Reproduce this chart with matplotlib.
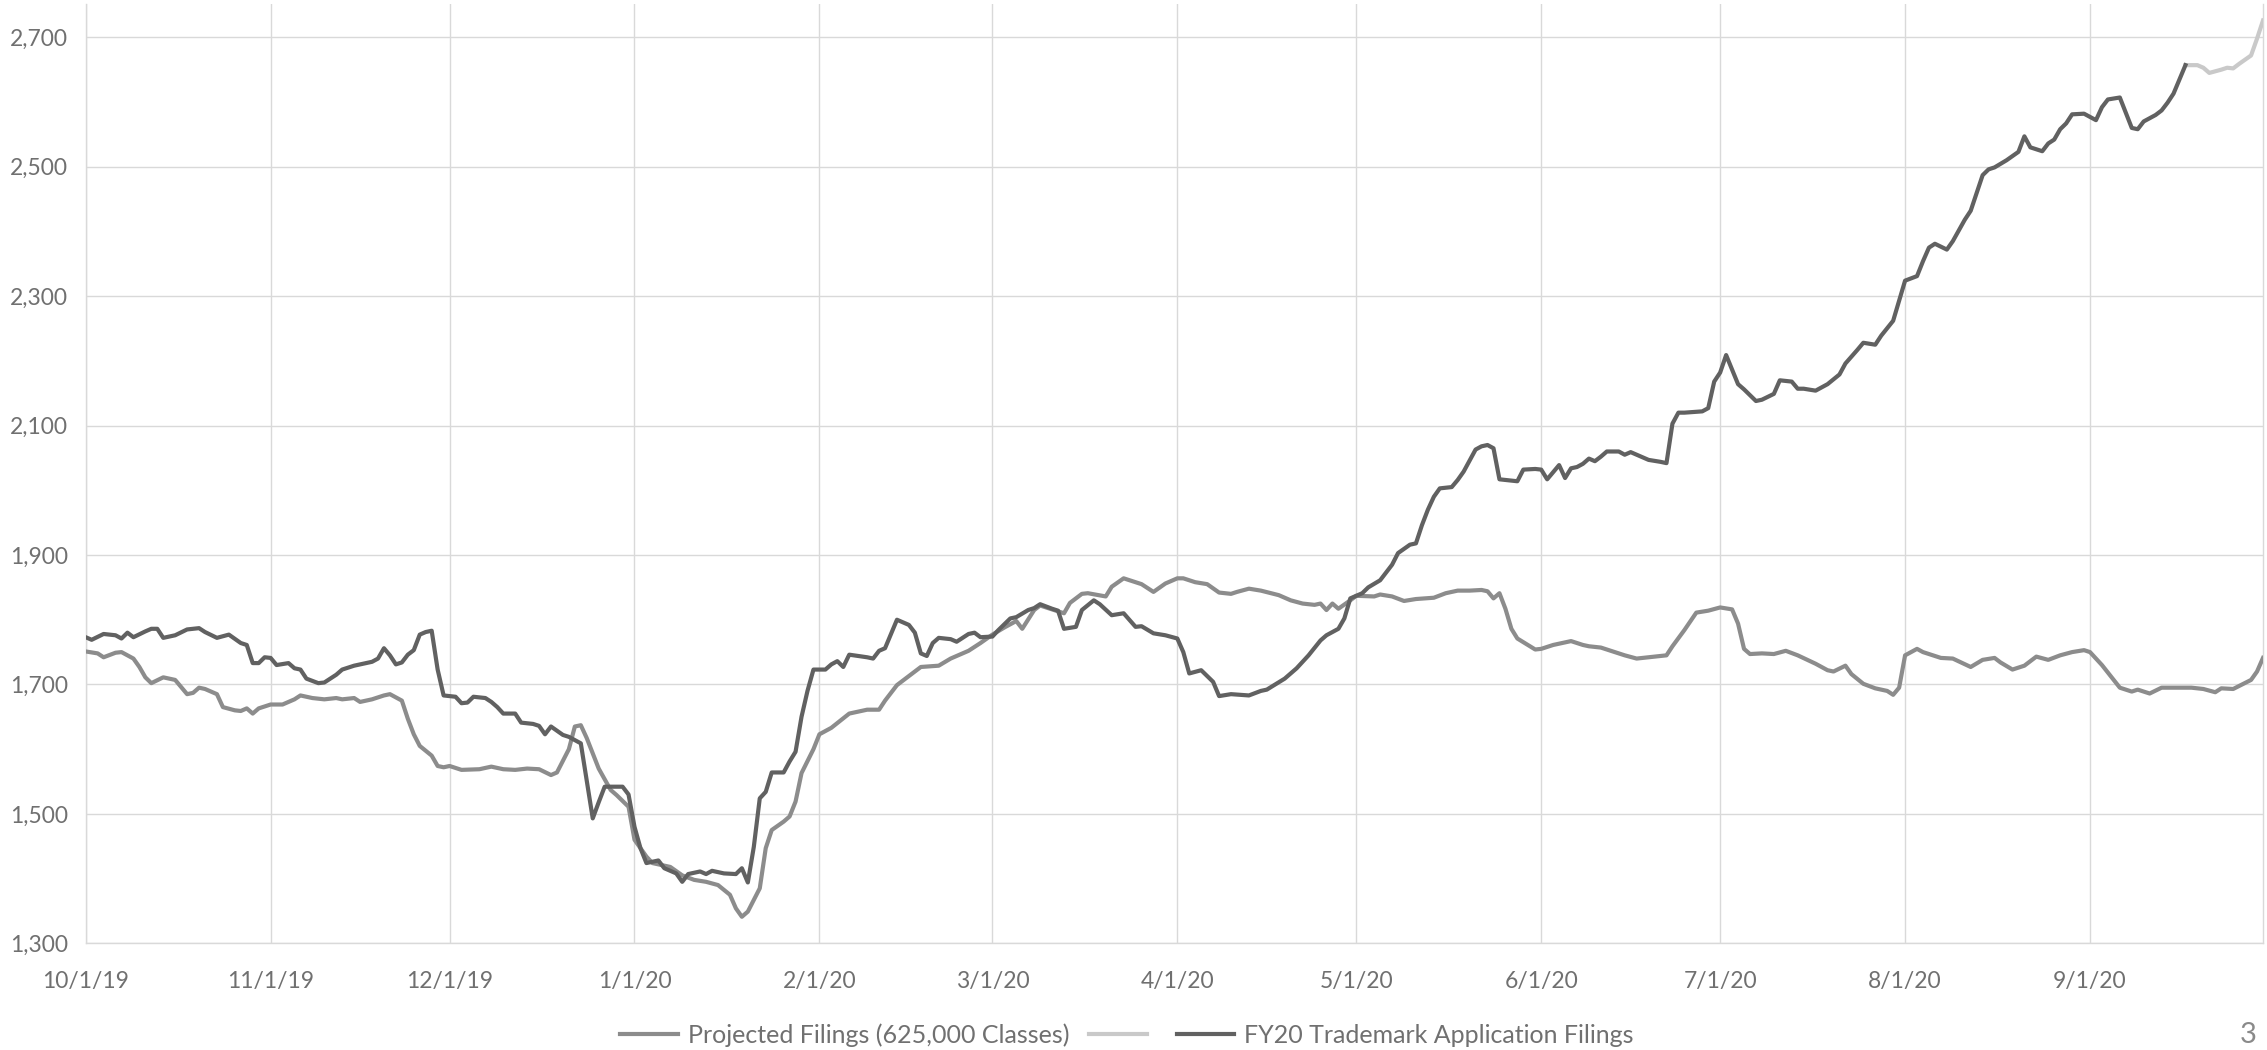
import matplotlib
matplotlib.use("Agg")
import matplotlib.pyplot as plt
import pandas as pd

plt.rcParams['font.family'] = ['Lato', 'DejaVu Sans']

START = "2019-10-01"

# ---- data (day offsets from 10/1/19, daily values) ----
proj_days = [0, 2, 3, 5, 6, 8, 9, 10, 11, 13, 14, 15, 17, 18, 19, 20, 22, 23, 25, 26,
             27, 28, 29, 31, 33, 35, 36, 38, 40, 42, 43, 45, 46, 48, 50, 51, 53, 54, 55, 56,
             58, 59, 60, 61, 63, 66, 68, 70, 72, 74, 76, 78, 79, 81, 82, 83, 84, 86, 88, 89,
             91, 92, 94, 95, 98, 100, 102, 104, 106, 108, 109, 110, 111, 113, 114, 115, 117, 118, 119, 120,
             122, 123, 125, 128, 131, 133, 134, 136, 138, 140, 143, 145, 148, 150, 152, 154, 156, 157, 159, 160,
             162, 164, 165, 167, 168, 171, 172, 174, 177, 179, 181, 183, 184, 186, 188, 190, 192, 193, 195, 197,
             200, 202, 204, 206, 207, 208, 209, 210, 212, 213, 216, 217, 219, 221, 223, 226, 228, 230, 232, 234,
             235, 236, 237, 238, 239, 240, 243, 244, 246, 249, 251, 252, 254, 256, 258, 260, 262, 265, 266, 268,
             270, 272, 274, 276, 277, 278, 279, 281, 283, 285, 287, 290, 292, 293, 295, 296, 298, 300, 302, 303,
             304, 305, 307, 308, 311, 313, 316, 318, 320, 321, 323, 325, 327, 329, 331, 333, 335, 336, 338, 341,
             343, 344, 346, 348, 351, 353, 355, 357, 358, 360, 363, 364, 365]
proj_vals = [1751, 1748, 1742, 1749, 1750, 1740, 1727, 1711, 1702, 1711, 1709, 1707, 1685, 1687, 1695, 1693, 1685, 1665, 1660, 1659,
             1663, 1655, 1663, 1669, 1669, 1677, 1683, 1679, 1677, 1679, 1677, 1679, 1673, 1677, 1683, 1685, 1675, 1647, 1623, 1605,
             1590, 1574, 1572, 1574, 1568, 1569, 1573, 1569, 1568, 1570, 1569, 1560, 1564, 1600, 1635, 1637, 1617, 1570, 1537, 1529,
             1511, 1460, 1434, 1424, 1418, 1405, 1398, 1395, 1390, 1375, 1354, 1341, 1349, 1385, 1447, 1475, 1488, 1496, 1519, 1563,
             1600, 1623, 1633, 1655, 1661, 1661, 1675, 1699, 1713, 1727, 1729, 1740, 1752, 1764, 1777, 1788, 1798, 1786, 1815, 1822,
             1816, 1810, 1826, 1840, 1841, 1836, 1851, 1864, 1855, 1843, 1856, 1864, 1864, 1858, 1855, 1842, 1840, 1843, 1848, 1845,
             1838, 1830, 1825, 1823, 1825, 1815, 1825, 1817, 1830, 1837, 1836, 1839, 1836, 1829, 1832, 1834, 1841, 1845, 1845, 1846,
             1844, 1833, 1841, 1817, 1786, 1771, 1754, 1755, 1761, 1767, 1761, 1759, 1757, 1751, 1745, 1740, 1742, 1745, 1759, 1784,
             1811, 1814, 1819, 1816, 1794, 1755, 1747, 1748, 1747, 1752, 1745, 1732, 1722, 1720, 1729, 1716, 1701, 1694, 1690, 1684,
             1695, 1745, 1755, 1750, 1741, 1740, 1727, 1738, 1741, 1734, 1723, 1729, 1743, 1738, 1745, 1750, 1753, 1750, 1730, 1695,
             1689, 1692, 1686, 1695, 1695, 1695, 1693, 1688, 1694, 1693, 1707, 1720, 1741]

fy20_days = [0, 1, 3, 5, 6, 7, 8, 10, 11, 12, 13, 15, 17, 19, 20, 22, 24, 26, 27, 28,
             29, 30, 31, 32, 34, 35, 36, 37, 39, 40, 42, 43, 45, 46, 48, 49, 50, 51, 52, 53,
             54, 55, 56, 57, 58, 59, 60, 62, 63, 64, 65, 67, 68, 69, 70, 72, 73, 75, 76, 77,
             78, 80, 81, 83, 85, 86, 87, 90, 91, 92, 93, 94, 96, 97, 99, 100, 101, 103, 104, 105,
             107, 109, 110, 111, 112, 113, 114, 115, 117, 118, 119, 120, 121, 122, 124, 125, 126, 127, 128, 131,
             132, 133, 134, 136, 138, 139, 140, 141, 142, 143, 145, 146, 148, 149, 150, 152, 153, 155, 156, 158,
             159, 160, 162, 163, 164, 166, 167, 169, 170, 172, 174, 176, 177, 179, 181, 183, 184, 185, 187, 189,
             190, 192, 195, 197, 198, 201, 203, 205, 207, 208, 210, 211, 212, 214, 215, 217, 218, 219, 220, 222,
             223, 224, 225, 226, 227, 229, 230, 231, 233, 234, 235, 236, 237, 238, 240, 241, 243, 244, 245, 247,
             248, 249, 250, 251, 252, 253, 254, 255, 257, 258, 259, 261, 262, 264, 265, 266, 267, 268, 271, 272,
             273, 274, 275, 277, 278, 280, 281, 283, 284, 286, 287, 288, 290, 292, 294, 295, 297, 298, 300, 301,
             303, 305, 307, 308, 309, 310, 312, 313, 315, 316, 318, 319, 320, 322, 324, 325, 326, 328, 329, 330,
             331, 332, 333, 335, 337, 338, 339, 341, 343, 344, 345, 347, 348, 349, 350, 352]
fy20_vals = [1773, 1769, 1778, 1776, 1771, 1780, 1773, 1782, 1786, 1786, 1772, 1776, 1785, 1787, 1781, 1772, 1777, 1764, 1761, 1733,
             1733, 1742, 1741, 1730, 1733, 1725, 1723, 1709, 1702, 1703, 1715, 1723, 1729, 1731, 1735, 1740, 1756, 1745, 1731, 1734,
             1746, 1753, 1777, 1781, 1783, 1723, 1683, 1681, 1671, 1672, 1681, 1679, 1673, 1665, 1655, 1655, 1641, 1639, 1636, 1623,
             1635, 1622, 1619, 1609, 1493, 1518, 1542, 1542, 1530, 1480, 1447, 1424, 1428, 1416, 1408, 1395, 1407, 1411, 1407, 1412,
             1408, 1407, 1416, 1394, 1449, 1524, 1534, 1564, 1564, 1581, 1596, 1650, 1690, 1723, 1723, 1731, 1736, 1727, 1746, 1742,
             1740, 1752, 1756, 1800, 1792, 1780, 1748, 1744, 1764, 1772, 1770, 1766, 1778, 1780, 1773, 1774, 1784, 1802, 1804, 1815,
             1818, 1824, 1817, 1814, 1786, 1789, 1815, 1830, 1824, 1807, 1810, 1789, 1790, 1779, 1776, 1771, 1750, 1717, 1722, 1704,
             1682, 1685, 1683, 1690, 1692, 1709, 1725, 1745, 1768, 1776, 1786, 1802, 1833, 1841, 1850, 1861, 1873, 1885, 1903, 1916,
             1918, 1946, 1970, 1990, 2003, 2005, 2016, 2029, 2063, 2068, 2070, 2065, 2017, 2016, 2014, 2032, 2033, 2032, 2017, 2039,
             2019, 2034, 2036, 2041, 2049, 2045, 2052, 2060, 2060, 2055, 2059, 2051, 2047, 2044, 2042, 2103, 2120, 2120, 2122, 2127,
             2168, 2182, 2209, 2164, 2156, 2138, 2140, 2149, 2170, 2168, 2157, 2157, 2154, 2164, 2179, 2196, 2217, 2228, 2225, 2239,
             2262, 2324, 2331, 2354, 2375, 2381, 2372, 2385, 2418, 2432, 2487, 2496, 2499, 2510, 2523, 2547, 2530, 2524, 2536, 2542,
             2558, 2567, 2581, 2582, 2572, 2592, 2604, 2607, 2560, 2558, 2570, 2580, 2587, 2599, 2613, 2657]

tail_days = [352, 354, 355, 356, 358, 359, 360, 361, 363, 364, 365]
tail_vals = [2657, 2657, 2653, 2645, 2650, 2653, 2652, 2659, 2672, 2698, 2726]

series_labels = ["Projected Filings (625,000 Classes)", "", "FY20 Trademark Application Filings"]
x_tick_labels = ["10/1/19", "11/1/19", "12/1/19", "1/1/20", "2/1/20", "3/1/20", "4/1/20",
                 "5/1/20", "6/1/20", "7/1/20", "8/1/20", "9/1/20"]
y_ticks = [1300, 1500, 1700, 1900, 2100, 2300, 2500, 2700]

assert len(proj_days) == len(proj_vals)
assert len(fy20_days) == len(fy20_vals)
assert len(tail_days) == len(tail_vals)


def to_dates(days):
    return pd.Timestamp(START) + pd.to_timedelta(days, unit="D")


W, H = 2267, 1050
fig = plt.figure(figsize=(W / 100, H / 100), dpi=100)
x0, x1, ytop, ybot = 85.7, 2263, 4, 943.3
ax = fig.add_axes([x0 / W, 1 - ybot / H, (x1 - x0) / W, (ybot - ytop) / H])

c_proj = "#8c8c8c"
c_tail = "#c9c9c9"
c_fy20 = "#616161"
grid_c = "#d9d9d9"
txt_c = "#707070"

lw = 3.0
l1, = ax.plot(to_dates(proj_days), proj_vals, color=c_proj, lw=lw, solid_joinstyle="round", zorder=3)
l2, = ax.plot(to_dates(tail_days), tail_vals, color=c_tail, lw=lw, solid_joinstyle="round", zorder=3)
l3, = ax.plot(to_dates(fy20_days), fy20_vals, color=c_fy20, lw=lw, solid_joinstyle="round", zorder=4)

ax.set_xlim(pd.Timestamp(START), pd.Timestamp(START) + pd.Timedelta(days=365))
ax.set_ylim(1300, 2751.5)

xt = pd.to_datetime(x_tick_labels, format="%m/%d/%y")
ax.set_xticks(xt)
ax.set_xticklabels(x_tick_labels)
ax.set_yticks(y_ticks)
ax.set_yticklabels([f"{v:,}" for v in y_ticks])

ax.grid(True, color=grid_c, lw=1.0)
ax.set_axisbelow(True)
ax.spines["top"].set_visible(False)
for s in ["left", "bottom", "right"]:
    ax.spines[s].set_color(grid_c)
    ax.spines[s].set_linewidth(1.0)

ax.tick_params(axis="both", length=0, labelsize=16.5, labelcolor=txt_c)
ax.tick_params(axis="y", pad=13)
ax.tick_params(axis="x", pad=20)

fig.legend([l1, l2, l3], series_labels, loc="center", bbox_to_anchor=(1127 / W, 1 - 1035 / H),
           ncol=3, frameon=False, fontsize=18, labelcolor=txt_c, handlelength=2.3,
           handletextpad=0.4, columnspacing=0.8)

fig.text(2248 / W, 1 - 1035 / H, "3", fontsize=21, color="#8a8a8a", ha="center", va="center")

fig.savefig("out.png", dpi=100)
